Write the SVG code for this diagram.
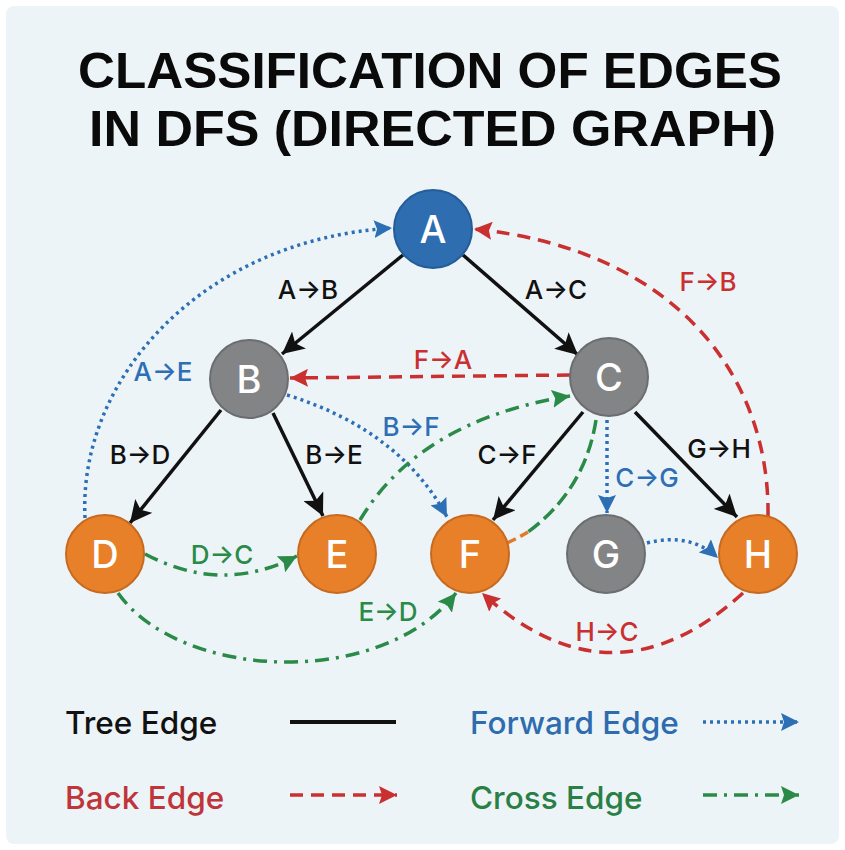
<svg xmlns="http://www.w3.org/2000/svg" width="845" height="850" viewBox="0 0 845 850">
<style>
.title{font-family:"Liberation Sans",Arial,sans-serif;font-weight:bold;font-size:50px;fill:#0a0a0a}
.lbl{font-family:Inter,"DejaVu Sans",sans-serif;font-weight:500;font-size:26px;text-anchor:middle}
.node text{font-family:Inter,"Liberation Sans",sans-serif;font-weight:500;font-size:38px;fill:#fff;text-anchor:middle}
.leg{font-family:Inter,"Liberation Sans",sans-serif;font-weight:500;font-size:31.5px}
.tree{stroke:#111;stroke-width:3.5;fill:none}
.back{stroke:#c9302f;stroke-width:3.5;fill:none;stroke-dasharray:13 8}
.fwd{stroke:#2d6fb5;stroke-width:3.5;fill:none;stroke-dasharray:3 4}
.cross{stroke:#2a8a47;stroke-width:3.5;fill:none;stroke-dasharray:14 7 3 7}
.blue{fill:#2e6db0;stroke:#245d98;stroke-width:2}
.gray{fill:#838486;stroke:#6c6d70;stroke-width:2}
.orange{fill:#e8802a;stroke:#c76a1f;stroke-width:2}
</style>
<defs>
<marker id="ah-tree" markerUnits="userSpaceOnUse" markerWidth="24" markerHeight="22" refX="22" refY="11" orient="auto"><path d="M0,0 L22,11 L0,22 L5,11 z" fill="#111"/></marker>
<marker id="ah-back" markerUnits="userSpaceOnUse" markerWidth="20" markerHeight="18" refX="18" refY="9" orient="auto"><path d="M0,0 L18,9 L0,18 L3,9 z" fill="#c9302f"/></marker>
<marker id="ah-fwd" markerUnits="userSpaceOnUse" markerWidth="20" markerHeight="18" refX="18" refY="9" orient="auto"><path d="M0,0 L18,9 L0,18 L3,9 z" fill="#2d6fb5"/></marker>
<marker id="ah-cross" markerUnits="userSpaceOnUse" markerWidth="20" markerHeight="18" refX="18" refY="9" orient="auto"><path d="M0,0 L18,9 L0,18 L3,9 z" fill="#2a8a47"/></marker>
</defs>
<rect width="845" height="850" fill="#ffffff"/>
<rect x="6" y="6" width="833" height="838" rx="8" fill="#edf4f8"/>
<text class="title" x="78" y="88" textLength="704" lengthAdjust="spacingAndGlyphs">CLASSIFICATION OF EDGES</text>
<text class="title" x="89" y="146" textLength="687" lengthAdjust="spacingAndGlyphs">IN DFS (DIRECTED GRAPH)</text>

<g id="connectors">
<path class="tree" d="M403 255 L282 354" marker-end="url(#ah-tree)"/>
<path class="tree" d="M463 255 L578 355" marker-end="url(#ah-tree)"/>
<path class="tree" d="M221 410 L130 523" marker-end="url(#ah-tree)"/>
<path class="tree" d="M273 413 L323 516" marker-end="url(#ah-tree)"/>
<path class="tree" d="M583 412 L493 520" marker-end="url(#ah-tree)"/>
<path class="tree" d="M635 412 L737 517" marker-end="url(#ah-tree)"/>
<path class="back" d="M768 516 C770 380 680 250 474 229" marker-end="url(#ah-back)"/>
<path class="back" d="M570 375 L290 378" marker-end="url(#ah-back)"/>
<path class="back" d="M743 593 Q612 712 482 593" marker-end="url(#ah-back)"/>
<path class="fwd" d="M85 518 C78 380 200 240 392 228" marker-end="url(#ah-fwd)"/>
<path class="fwd" d="M287 395 Q400 430 447 517" marker-end="url(#ah-fwd)"/>
<path class="fwd" d="M607 420 L607 513" marker-end="url(#ah-fwd)"/>
<path class="fwd" d="M647 543 Q690 532 718 558" marker-end="url(#ah-fwd)"/>
<path class="cross" d="M145 554 Q222 595 297 556" marker-end="url(#ah-cross)"/>
<path class="cross" d="M118 593 C180 680 380 690 456 593" marker-end="url(#ah-cross)"/>
<path class="cross" d="M360 520 Q420 420 570 396" marker-end="url(#ah-cross)"/>
<path d="M596 420 Q585 490 528 532" stroke="#2a8a47" stroke-width="3.5" fill="none" stroke-dasharray="14 6"/>
<path d="M528 532 Q518 538 507 543" stroke="#e07a2a" stroke-width="3.5" fill="none" stroke-dasharray="9 5"/>
</g>

<g id="labels">
<text class="lbl" x="308" y="299" fill="#111">A→B</text>
<text class="lbl" x="556" y="299" fill="#111">A→C</text>
<text class="lbl" x="708" y="291" fill="#c9302f">F→B</text>
<text class="lbl" x="443" y="369" fill="#c9302f">F→A</text>
<text class="lbl" x="163" y="381" fill="#2d6fb5">A→E</text>
<text class="lbl" x="411" y="436" fill="#2d6fb5">B→F</text>
<text class="lbl" x="140" y="464" fill="#111">B→D</text>
<text class="lbl" x="334" y="464" fill="#111">B→E</text>
<text class="lbl" x="507" y="464" fill="#111">C→F</text>
<text class="lbl" x="719" y="458" fill="#111">G→H</text>
<text class="lbl" x="647" y="487" fill="#2d6fb5">C→G</text>
<text class="lbl" x="222" y="564" fill="#2a8a47">D→C</text>
<text class="lbl" x="388" y="621" fill="#2a8a47">E→D</text>
<text class="lbl" x="607" y="641" fill="#c9302f">H→C</text>
</g>

<g id="node-A" class="node"><circle class="blue" cx="433" cy="229" r="39"/><text x="433" y="243">A</text></g>
<g id="node-B" class="node"><circle class="gray" cx="249" cy="379" r="39"/><text x="249" y="393">B</text></g>
<g id="node-C" class="node"><circle class="gray" cx="609" cy="377" r="39"/><text x="609" y="391">C</text></g>
<g id="node-D" class="node"><circle class="orange" cx="105" cy="554" r="39"/><text x="105" y="568">D</text></g>
<g id="node-E" class="node"><circle class="orange" cx="337" cy="554" r="39"/><text x="337" y="568">E</text></g>
<g id="node-F" class="node"><circle class="orange" cx="470" cy="554" r="39"/><text x="470" y="568">F</text></g>
<g id="node-G" class="node"><circle class="gray" cx="606" cy="554" r="39"/><text x="606" y="568">G</text></g>
<g id="node-H" class="node"><circle class="orange" cx="758" cy="554" r="39"/><text x="758" y="568">H</text></g>

<g id="legend">
<text class="leg" x="65" y="734" fill="#111">Tree Edge</text>
<line x1="290" y1="722" x2="396" y2="722" stroke="#111" stroke-width="4"/>
<text class="leg" x="470" y="734" fill="#2e6cae">Forward Edge</text>
<line x1="703" y1="722" x2="799" y2="722" class="fwd" marker-end="url(#ah-fwd)"/>
<text class="leg" x="65" y="809" fill="#c0353a">Back Edge</text>
<line x1="290" y1="795" x2="397" y2="795" class="back" stroke-dasharray="12 8" marker-end="url(#ah-back)"/>
<text class="leg" x="470" y="809" fill="#2a7f45">Cross Edge</text>
<line x1="703" y1="795" x2="799" y2="795" class="cross" marker-end="url(#ah-cross)"/>
</g>
</svg>
